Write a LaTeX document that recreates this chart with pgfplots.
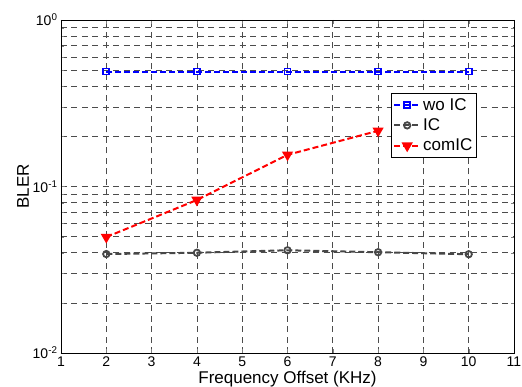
\documentclass[border=0pt]{standalone}
\usepackage{pgfplots}
\pgfplotsset{compat=1.18}
\usepackage{fontspec}
\setmainfont{Liberation Sans}
\begin{document}
\begin{tikzpicture}
\begin{axis}[
  name=ax,
  scale only axis,
  width=453pt, height=333pt,
  xmin=1, xmax=11,
  ymode=log, ymin=0.01, ymax=1,
  xtick={1,2,...,11},
  ytick={0.01,0.1,1},
  yticklabels={10\textsuperscript{-2},10\textsuperscript{-1},10\textsuperscript{0}},
  /pgf/number format/assume math mode=true,
  tick label style={font=\fontsize{14}{16}\selectfont},
  label style={font=\fontsize{17}{19}\selectfont},
  xlabel={Frequency Offset (KHz)},
  ylabel={BLER},
  xlabel style={yshift=2pt},
  ylabel style={yshift=-3pt},
  xmajorgrids, ymajorgrids, yminorgrids,
  major grid style={dash pattern=on 6pt off 4.5pt, black!70, line width=0.7pt},
  minor grid style={dash pattern=on 6pt off 4.5pt, black!70, line width=0.7pt},
  tick align=inside,
  axis line style={black, line width=0.9pt},
  legend style={at={(0.728,0.781)}, anchor=north west, font=\fontsize{17}{19}\selectfont, draw=black, line width=0.8pt, inner xsep=2pt, inner ysep=3pt, row sep=3pt},
  legend cell align=left,
  legend image code/.code={\draw[mark repeat=2,mark phase=2] plot coordinates {(0pt,0pt) (13pt,0pt) (26pt,0pt)};},
]
\addplot[blue, dash pattern=on 6pt off 3pt, line width=2pt, mark=square, mark size=3pt, mark options={solid, line width=1.8pt}]
 coordinates {(2,0.49) (4,0.49) (6,0.49) (8,0.49) (10,0.49)};
\addlegendentry{wo IC}
\addplot[black!72, dash pattern=on 6pt off 3pt, line width=2pt, mark=o, mark size=3.2pt, mark options={solid, line width=1.8pt}]
 coordinates {(2,0.0393) (4,0.0400) (6,0.0414) (8,0.0403) (10,0.0392)};
\addlegendentry{IC}
\addplot[red, dash pattern=on 6pt off 3pt, line width=2pt, mark=triangle*, mark size=4.5pt, mark options={solid, rotate=180}]
 coordinates {(2,0.0497) (4,0.083) (6,0.155) (8,0.216)};
\addlegendentry{comIC}
\end{axis}
\pgfresetboundingbox
\path[use as bounding box] (ax.south west) ++(-61pt,-34pt) rectangle ++(522pt,387pt);
\end{tikzpicture}
\end{document}
